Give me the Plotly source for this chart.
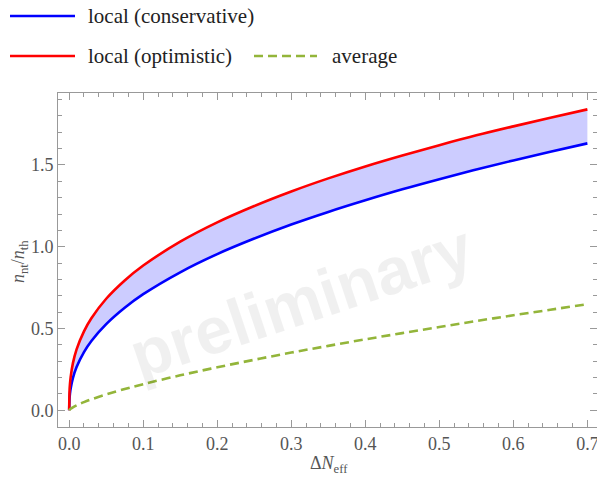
import plotly.graph_objects as go

# Data
delta_neff = [0.0, 0.0005, 0.001, 0.002, 0.005, 0.01, 0.02, 0.03, 0.05, 0.075, 0.1, 0.15, 0.2,
              0.25, 0.3, 0.35, 0.4, 0.45, 0.5, 0.55, 0.6, 0.65, 0.7]
local_conservative = [0.0, 0.073, 0.099, 0.133, 0.197, 0.265, 0.356, 0.424, 0.527, 0.627, 0.710,
                      0.844, 0.955, 1.050, 1.136, 1.213, 1.284, 1.351, 1.413, 1.472, 1.528, 1.581, 1.632]
local_optimistic = [0.0, 0.121, 0.157, 0.203, 0.287, 0.373, 0.483, 0.563, 0.682, 0.794, 0.885,
                    1.031, 1.149, 1.249, 1.338, 1.418, 1.491, 1.558, 1.621, 1.681, 1.736, 1.789, 1.840]
average = [0.0, 0.0035, 0.0058, 0.0096, 0.0185, 0.0304, 0.0502, 0.0672, 0.0971, 0.130, 0.160,
           0.214, 0.263, 0.309, 0.353, 0.394, 0.434, 0.472, 0.509, 0.546, 0.581, 0.615, 0.649]

legend_labels = ["local (conservative)", "local (optimistic)", "average"]

BLUE = "#0000ff"
RED = "#ff0000"
GREEN = "#93b53a"
FILL = "#ccccff"
AXIS = "#999999"
TXT = "#555555"
SERIF = "Liberation Serif"

W, H = 597, 481
# plot area in window pixels: x 58..597, y 93..427
ML, MR, MT, MB = 58, 0, 93, 481 - 427
pw, ph = W - ML - MR, H - MT - MB


def px_x(p):
    """window pixel x -> paper x"""
    return (p - ML) / pw


def px_y(p):
    """window pixel y -> paper y"""
    return (H - MB - p) / ph


fig = go.Figure()

# band fill between the two local curves
fig.add_trace(go.Scatter(x=delta_neff, y=local_conservative, mode="lines",
                         line=dict(width=0, color=FILL, shape="spline"),
                         showlegend=False, hoverinfo="skip"))
fig.add_trace(go.Scatter(x=delta_neff, y=local_optimistic, mode="lines",
                         line=dict(width=0, color=FILL, shape="spline"),
                         fill="tonexty", fillcolor=FILL,
                         showlegend=False, hoverinfo="skip"))

fig.add_trace(go.Scatter(x=delta_neff, y=local_conservative, mode="lines", name=legend_labels[0],
                         line=dict(color=BLUE, width=2.6, shape="spline"), showlegend=False))
fig.add_trace(go.Scatter(x=delta_neff, y=local_optimistic, mode="lines", name=legend_labels[1],
                         line=dict(color=RED, width=2.6, shape="spline"), showlegend=False))
fig.add_trace(go.Scatter(x=delta_neff, y=average, mode="lines", name=legend_labels[2],
                         line=dict(color=GREEN, width=2.6, dash="9px,5px", shape="spline"),
                         showlegend=False))

# watermark
fig.add_annotation(x=0.313, y=0.67, xref="x", yref="y", text="<b>preliminary</b>",
                   showarrow=False, textangle=-18.5,
                   font=dict(family="Liberation Sans", size=66,
                             color="rgba(0,0,0,0.06)"))

# manual legend (two rows, as in reference)
legend_rows = [
    (10, 75, 16, BLUE, "solid", 87, legend_labels[0]),
    (10, 75, 56, RED, "solid", 87, legend_labels[1]),
    (254, 317, 56, GREEN, "9px,5px", 331, legend_labels[2]),
]
for x0, x1, yy, col, dash, tx, label in legend_rows:
    fig.add_shape(type="line", xref="paper", yref="paper",
                  x0=px_x(x0), x1=px_x(x1), y0=px_y(yy), y1=px_y(yy),
                  line=dict(color=col, width=2.6, dash=dash))
    fig.add_annotation(xref="paper", yref="paper", x=px_x(tx), y=px_y(yy),
                       xanchor="left", yanchor="middle", text=label, showarrow=False,
                       borderpad=0, font=dict(family=SERIF, size=21, color="#222222"))

# axis titles
fig.add_annotation(xref="paper", yref="paper", x=px_x(329), y=px_y(465),
                   xanchor="center", yanchor="middle", showarrow=False,
                   text="Δ<i>N</i><sub>eff</sub>", font=dict(family=SERIF, size=18, color=TXT))
fig.add_annotation(xref="paper", yref="paper", x=px_x(19), y=px_y(262),
                   xanchor="center", yanchor="middle", showarrow=False, textangle=-90,
                   text="<i>n</i><sub>nt</sub>/<i>n</i><sub>th</sub>",
                   font=dict(family=SERIF, size=18, color=TXT))

axis_common = dict(
    showgrid=False, zeroline=False, showline=True, linecolor=AXIS, linewidth=1,
    mirror="allticks", ticks="inside", ticklen=7, tickwidth=1, tickcolor=AXIS,
    tickfont=dict(family=SERIF, size=18, color=TXT), automargin=False,
    ticklabeloverflow="allow",
)

fig.update_layout(
    width=W, height=H,
    margin=dict(l=ML, r=MR, t=MT, b=MB),
    paper_bgcolor="white", plot_bgcolor="white",
    showlegend=False,
    xaxis=dict(range=[-0.0151, 0.713], tick0=0, dtick=0.1, tickformat=".1f",
               minor=dict(ticks="inside", ticklen=4, tickcolor=AXIS, dtick=0.02, tick0=0),
               **axis_common),
    yaxis=dict(range=[-0.102, 1.94], tick0=0, dtick=0.5, tickformat=".1f",
               minor=dict(ticks="inside", ticklen=4, tickcolor=AXIS, dtick=0.1, tick0=0),
               **axis_common),
)

# remove the default 8px page margin so the figure fills the window exactly
fig.write_html("out.html", config={"displayModeBar": False},
               post_script="document.body.style.margin='0';")
